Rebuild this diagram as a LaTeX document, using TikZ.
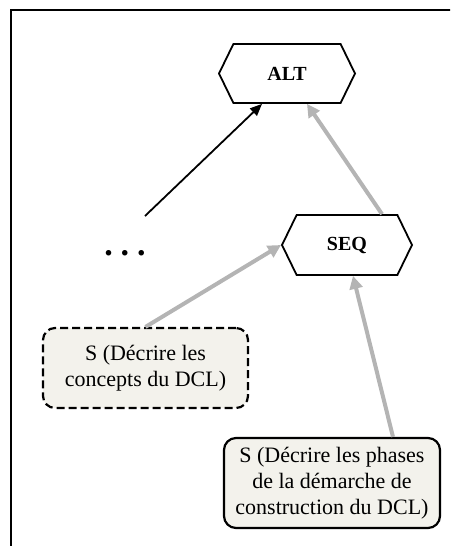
\documentclass[tikz,border=0pt]{standalone}
\usepackage{fontspec}
\setmainfont{Liberation Serif}
\usetikzlibrary{arrows.meta,calc,shapes.symbols}
\definecolor{boxfill}{RGB}{243,242,236}
\definecolor{linkgray}{RGB}{180,180,180}

\begin{document}
\begin{tikzpicture}[x=1pt,y=-1pt,
    op/.style={draw,line width=1.8pt,signal,signal to=west and east,
        signal pointer angle=128,inner sep=0pt,
        font=\fontsize{20}{24}\selectfont\bfseries},
    task/.style={draw,line width=2.2pt,fill=boxfill,rounded corners=12pt,
        align=center,inner sep=0pt,font=\fontsize{22}{26}\selectfont},
    link/.style={line width=4pt,draw=linkgray,
        -{Triangle[width=13pt,length=13pt,fill=linkgray]}},
    blacklink/.style={line width=1.8pt,-{Triangle[width=10pt,length=12pt]}}]

\clip (0,0) rectangle (450,546);

% Frame
\draw[line width=2.2pt] (11,10) rectangle (470,570);

% Operators
\node[op,minimum width=136pt,minimum height=59pt] (alt) at (287,73.5) {ALT};
\node[op,minimum width=130pt,minimum height=60pt] (seq) at (347,245) {SEQ};

% Other branches
\node[font=\fontsize{34}{34}\selectfont\bfseries] (dots) at (125,253)
    {.\hspace{8pt}.\hspace{8pt}.};
\coordinate (dotstop) at (145,216);

% Tasks
\node[task,dash pattern=on 8pt off 4pt,minimum width=205pt,minimum height=80pt]
    (concepts) at (145.5,368) {S (Décrire les\\concepts du DCL)};
\node[task,minimum width=216pt,minimum height=90pt] (phases) at (332,483)
    {S (Décrire les phases\\de la démarche de\\construction du DCL)};

% Links
\draw[blacklink] (dotstop) -- ($(alt.south)+(-25,0)$);
\draw[link] ($(seq.north)+(35,0)$) -- ($(alt.south)+(20,0)$);
\draw[link] (concepts.north) -- (seq.west);
\draw[link] ($(phases.north)+(61,0)$) -- ($(seq.south)+(6,0)$);

\end{tikzpicture}
\end{document}
